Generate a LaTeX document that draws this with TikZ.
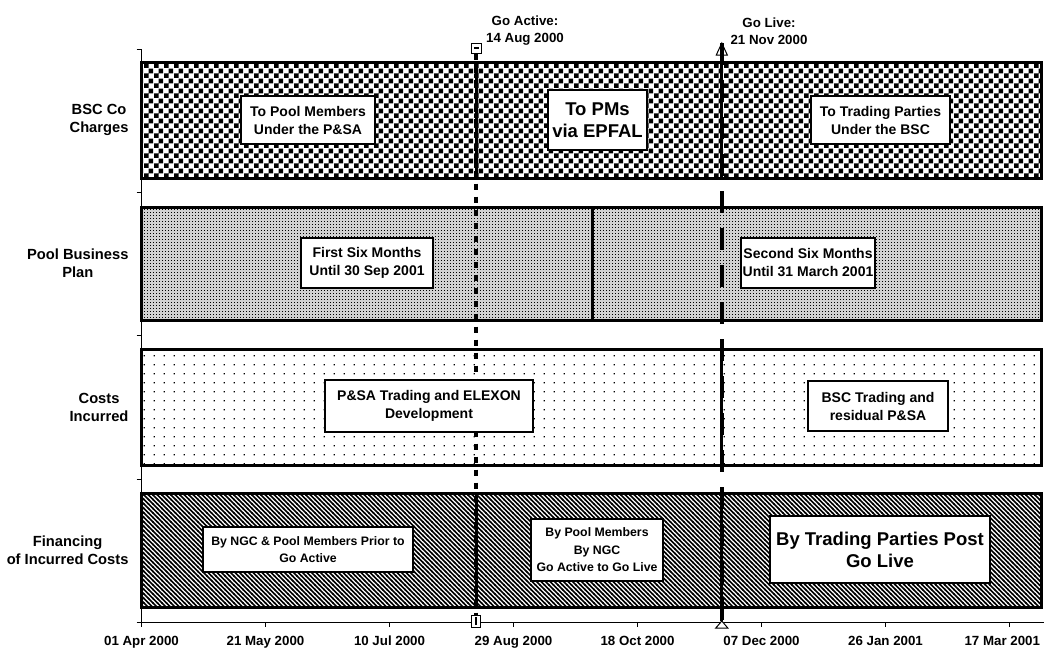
\documentclass[tikz,border=0pt]{standalone}
\usepackage{fontspec}
\setmainfont{Liberation Sans}
\usetikzlibrary{patterns, shapes.geometric}
\pgfdeclarepatternformonly{bsccheck}{\pgfpointorigin}{\pgfpoint{9.6pt}{9.6pt}}{\pgfpoint{9.6pt}{9.6pt}}{%
  \pgfpathrectangle{\pgfpointorigin}{\pgfpoint{4.8pt}{4.8pt}}%
  \pgfpathrectangle{\pgfpoint{4.8pt}{4.8pt}}{\pgfpoint{4.8pt}{4.8pt}}%
  \pgfusepath{fill}}
\pgfdeclarepatternformonly{plandots}{\pgfpointorigin}{\pgfpoint{3pt}{3pt}}{\pgfpoint{3pt}{3pt}}{%
  \pgfpathrectangle{\pgfpointorigin}{\pgfpoint{1.3pt}{1.3pt}}%
  \pgfusepath{fill}}
\pgfdeclarepatternformonly{costdots}{\pgfpointorigin}{\pgfpoint{10pt}{9pt}}{\pgfpoint{10pt}{9pt}}{%
  \pgfpathrectangle{\pgfpoint{4pt}{4pt}}{\pgfpoint{1.4pt}{1.4pt}}%
  \pgfusepath{fill}}
\pgfdeclarepatternformonly{finstripes}{\pgfpoint{-1pt}{-1pt}}{\pgfpoint{5.5pt}{5.5pt}}{\pgfpoint{4.5pt}{4.5pt}}{%
  \pgfsetlinewidth{1.7pt}%
  \pgfpathmoveto{\pgfpoint{-0.5pt}{5pt}}\pgfpathlineto{\pgfpoint{5pt}{-0.5pt}}%
  \pgfusepath{stroke}}
\tikzset{
  catlabel/.style={anchor=east, align=center, font=\bfseries\fontsize{14.7}{18}\selectfont},
  datelabel/.style={anchor=base, font=\bfseries\fontsize{13.3}{16}\selectfont},
  eventlabel/.style={align=center, font=\bfseries\fontsize{13.3}{17}\selectfont},
  labelbox/.style={rectangle, draw=black, line width=2pt, fill=white, align=center, inner sep=2pt, font=\bfseries\fontsize{14}{18}\selectfont},
  bigbox/.style={labelbox, font=\bfseries\fontsize{18.5}{22}\selectfont},
  smallbox/.style={labelbox, font=\bfseries\fontsize{12.3}{17.5}\selectfont},
  chartbar/.style={draw=black, line width=3pt},
  divider/.style={line width=3pt},
  activeline/.style={line width=4pt, dash pattern=on 6pt off 7pt},
  liveline/.style={line width=4pt, dash pattern=on 22pt off 15pt},
  marker/.style={rectangle, draw=black, fill=white, line width=1pt, inner sep=0pt},
  tipmark/.style={draw=black, fill=white, line width=1pt},
  axisline/.style={line width=1pt}
}
\begin{document}
\begin{tikzpicture}[x=1pt, y=-1pt]
  \useasboundingbox (0,0) rectangle (1044,648);

  \draw[chartbar, pattern=bsccheck] (141.5,62) rectangle (1041,178);
  \draw[chartbar, preaction={fill=black!18}, pattern=plandots] (141.5,207) rectangle (1041,320);
  \draw[chartbar, pattern=costdots] (141.5,349) rectangle (1041,465);
  \draw[chartbar, pattern=finstripes] (141.5,493) rectangle (1041,607);

  \draw[axisline] (141.5,49.5) -- (141.5,622) -- (1044,622);
  \foreach \y in {49.5,192.7,335.8,479,622}
    \draw[axisline] (136.5,\y) -- (141.5,\y);
  \foreach \i/\d in {0/01 Apr 2000, 1/21 May 2000, 2/10 Jul 2000, 3/29 Aug 2000, 4/18 Oct 2000, 5/07 Dec 2000, 6/26 Jan 2001} {
    \draw[axisline] ({141.5+124*\i},622) -- ++(0,5);
    \node (tick\i) [datelabel] at ({141.5+124*\i},645.5) {\d};
  }
  \draw[axisline] (1009.5,622) -- ++(0,5);
  \node (tick7) [datelabel, anchor=base east] at (1043.5,645.5) {17 Mar 2001};

  \node (chargesLbl) [catlabel] at (132,120) {BSC Co\\Charges};
  \node (planLbl) [catlabel] at (132,263.5) {Pool Business\\Plan};
  \node (costsLbl) [catlabel] at (132,407) {Costs\\Incurred};
  \node (financeLbl) [catlabel] at (132,550) {Financing\\of Incurred Costs};

  \node (activeLbl) [eventlabel] at (525,31) {Go Active:\\14 Aug 2000};
  \node (liveLbl) [eventlabel] at (769,31) {Go Live:\\21 Nov 2000};

  \node (activeTop) [marker, minimum width=10, minimum height=10] at (476.3,48) {};
  \node (activeBot) [marker, minimum width=9, minimum height=12] at (476.3,621) {};
  \coordinate (liveTop) at (721.8,43);
  \coordinate (liveBot) at (721.8,621);
  \draw[tipmark] (liveTop) -- ++(-5.5,12) -- ++(11,0) -- cycle;

  \draw[activeline] (activeTop) -- (activeBot);
  \draw[liveline] (liveTop) -- (liveBot);

  \draw[divider] (476.3,62) -- (476.3,178);
  \draw[divider] (721.8,62) -- (721.8,178);
  \draw[divider] ([yshift=-3]liveTop) -- (721.8,62);
  \draw[divider] (592.9,207) -- (592.9,320);
  \draw[divider] (721.8,349) -- (721.8,465);
  \draw[divider] (476.3,493) -- (476.3,607);
  \draw[divider] (721.8,493) -- (liveBot);

  \node (poolChg) [labelbox, minimum width=134, minimum height=48] at (308,120) {To Pool Members\\Under the P\&SA};
  \node (epfalChg) [bigbox, minimum width=99, minimum height=60] at (597.5,120) {To PMs\\via EPFAL};
  \node (tradeChg) [labelbox, minimum width=139, minimum height=48] at (880.5,120) {To Trading Parties\\Under the BSC};
  \node (firstSix) [labelbox, minimum width=132, minimum height=50] at (367,263) {First Six Months\\Until 30 Sep 2001};
  \node (secondSix) [labelbox, minimum width=134, minimum height=50] at (808,263) {Second Six Months\\Until 31 March 2001};
  \node (psaDev) [labelbox, minimum width=208, minimum height=52] at (429,406) {P\&SA Trading and ELEXON\\Development};
  \node (bscResid) [labelbox, minimum width=140, minimum height=50] at (878,406) {BSC Trading and\\residual P\&SA};
  \node (ngcPrior) [smallbox, minimum width=210, minimum height=45] at (308,549.5) {By NGC \& Pool Members Prior to\\Go Active};
  \node (goActLive) [smallbox, minimum width=132, minimum height=62] at (597,550) {By Pool Members\\By NGC\\Go Active to Go Live};
  \node (tradePost) [bigbox, minimum width=220, minimum height=67] at (880,549.5) {By Trading Parties Post\\Go Live};

  \draw[line width=1.5] ([xshift=-2.5]activeTop.center) -- ([xshift=2.5]activeTop.center);
  \draw[line width=2] ([yshift=-4]activeBot.center) -- ([yshift=4]activeBot.center);
  \draw[tipmark] (liveBot) -- ++(-6,7) -- ++(12,0) -- cycle;
\end{tikzpicture}
\end{document}
